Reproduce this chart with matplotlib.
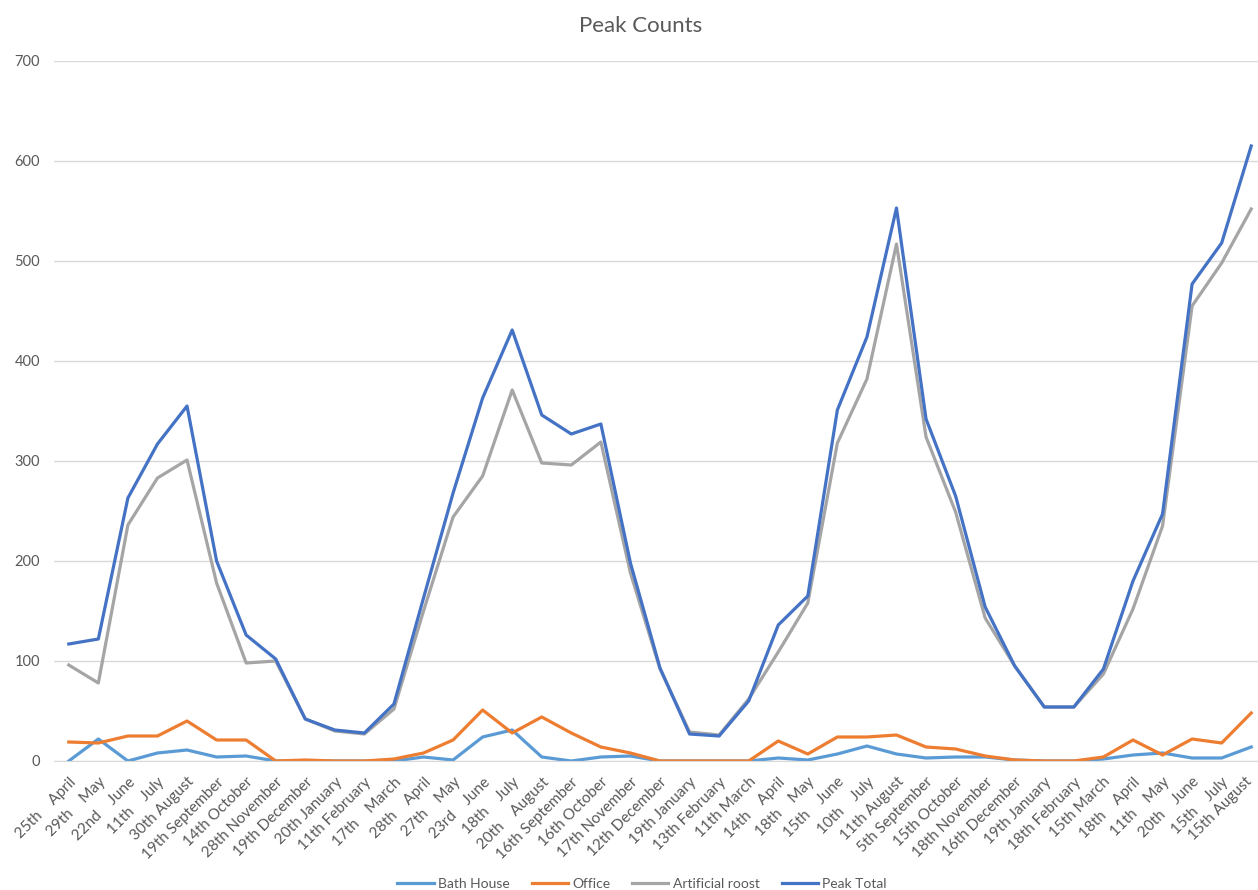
import matplotlib
matplotlib.use("Agg")
from matplotlib import pyplot as plt
from matplotlib.transforms import ScaledTranslation

dates = ["25th April", "29th May", "22nd June", "11th July", "30th August",
         "19th September", "14th October", "28th November", "19th December",
         "20th January", "11th February", "17th March", "28th April", "27th May",
         "23rd June", "18th July", "20th August", "16th September", "16th October",
         "17th November", "12th December", "19th January", "13th February",
         "11th March", "14th April", "18th May", "15th June", "10th July",
         "11th August", "5th September", "15th October", "18th November",
         "16th December", "19th January", "18th February", "15th March",
         "18th April", "11th May", "20th June", "15th July", "15th August"]
# labels that Excel wrapped onto two pieces
wrapped = [0, 1, 2, 3, 11, 12, 13, 14, 15, 16, 24, 25, 26, 27, 36, 37, 38, 39]

bath_house = [0, 22, 0, 8, 11, 4, 5, 0, 0, 0, 0, 0, 4, 1, 24, 31, 4, 0, 4, 5,
              0, 0, 0, 0, 3, 1, 7, 15, 7, 3, 4, 4, 1, 0, 0, 2, 6, 8, 3, 3, 14]
office = [19, 18, 25, 25, 40, 21, 21, 0, 1, 0, 0, 2, 8, 21, 51, 28, 44, 28, 14, 8,
          0, 0, 0, 0, 20, 7, 24, 24, 26, 14, 12, 5, 1, 0, 0, 4, 21, 6, 22, 18, 48]
artificial_roost = [96, 78, 236, 283, 301, 178, 98, 100, 42, 30, 27, 52, 150, 244,
                    285, 371, 298, 296, 319, 188, 92, 29, 26, 62, 109, 158, 318,
                    382, 517, 324, 249, 143, 95, 54, 54, 87, 152, 235, 455, 498, 552]
peak_total = [117, 122, 263, 317, 355, 200, 126, 102, 42, 31, 28, 57, 163, 268,
              363, 431, 346, 327, 337, 198, 93, 27, 25, 60, 136, 165, 351, 424,
              553, 342, 265, 154, 95, 54, 54, 92, 180, 247, 477, 518, 615]

series = [("Bath House", bath_house, "#5B9BD5"),
          ("Office", office, "#ED7D31"),
          ("Artificial roost", artificial_roost, "#A5A5A5"),
          ("Peak Total", peak_total, "#4472C4")]

txt = "#595959"
fig = plt.figure(figsize=(12.58, 8.9), dpi=100)
ax = fig.add_axes([54 / 1258, 129 / 890, 1212 / 1258, 700 / 890])

x = list(range(len(dates)))
for name, vals, col in series:
    ax.plot(x, vals, color=col, linewidth=2.3, label=name, solid_joinstyle="round")

ax.set_xlim(-0.5, len(dates) - 0.5)
ax.set_ylim(0, 700)
ax.set_yticks(range(0, 701, 100))
ax.grid(axis="y", color="#D9D9D9", linewidth=1)
ax.set_axisbelow(True)
for s in ["top", "right", "left"]:
    ax.spines[s].set_visible(False)
ax.spines["bottom"].set_color("#D9D9D9")

labels = []
for i, d in enumerate(dates):
    if i in wrapped:
        labels.append("    ".join(d.split(" ")))
    else:
        labels.append(d)
ax.set_xticks(x)
ax.set_xticklabels(labels, rotation=45, ha="right", va="top", rotation_mode="anchor",
                   fontsize=11, color=txt, family="Lato")
ax.tick_params(axis="x", length=0, pad=10)
ax.tick_params(axis="y", length=0, pad=10, labelsize=10.5, labelcolor=txt)
for t in ax.get_yticklabels():
    t.set_family("Lato")

# keep the last label inside the picture
last = ax.get_xticklabels()[-1]
last.set_transform(last.get_transform() + ScaledTranslation(-6 / 100, 0, fig.dpi_scale_trans))

fig.text(641 / 1258, 1 - 26 / 890, "Peak Counts", ha="center", va="center",
         fontsize=16, color=txt, family="Lato")

fig.legend(loc="center", bbox_to_anchor=(642 / 1258, 1 - 884 / 890), ncol=4,
           frameon=False, handlelength=2.6, columnspacing=1.6, handletextpad=0.3,
           prop={"family": "Lato", "size": 10}, labelcolor=txt)

fig.savefig("out.png", dpi=100)
